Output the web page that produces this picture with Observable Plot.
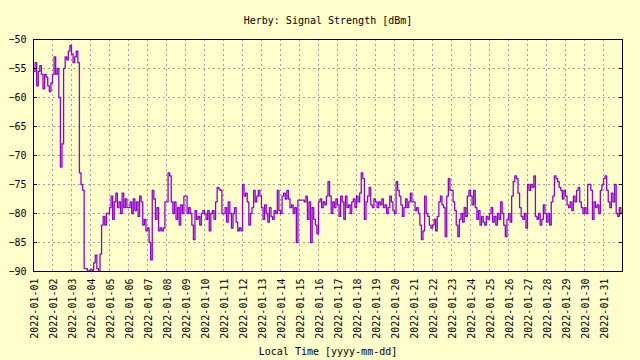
<!DOCTYPE html>
<html>
<head>
<meta charset="utf-8">
<script src="https://cdn.jsdelivr.net/npm/d3@7"></script>
<script src="https://cdn.jsdelivr.net/npm/@observablehq/plot@0.6"></script>
<style>
  html, body { margin: 0; padding: 0; background: #ffffcc; }
</style>
</head>
<body>
<div id="chart"></div>
<script>
// ---- data (dBm, one reading every 2 hours, 12 per day) ----
const titleText = "Herby: Signal Strength [dBm]";
const xLabelText = "Local Time [yyyy-mm-dd]";
const startDate = "2022-01-01";
const endDate = "2022-02-01";
const stepHours = 2;
const yTicks = [-90, -85, -80, -75, -70, -65, -60, -55, -50];

const jan01to07 = [
  -55.5, -54, -58, -55.5, -54.5, -56, -58.5, -56, -56.5, -58, -59, -57.5,
  -56, -53, -56, -55, -60, -72, -68, -55, -53, -53.5, -52, -51,
  -52.5, -54, -53, -52, -54, -73, -75, -76, -89.5, -89.5, -90, -89.8,
  -89.6, -89.8, -88.5, -87.2, -89.5, -90, -87, -82, -80.5, -82, -80, -80,
  -79, -77, -81, -78, -76.5, -79, -78, -80, -76.5, -79, -77.5, -79,
  -79, -78, -80, -77.5, -79.5, -78, -80.5, -77, -78, -82, -81, -83,
  -82.5, -85, -88, -76, -77.5, -81, -79, -83, -82.5, -83, -82.5, -78
];
const jan08to14 = [
  -78, -73, -73.5, -78, -80, -78, -81, -79, -82, -78.5, -80, -77,
  -77, -80, -79, -80, -82, -84.5, -79.5, -81, -80.5, -82, -80, -79.5,
  -80, -81, -79.5, -83, -80, -79.5, -81, -78, -75.5, -75.8, -76, -80,
  -80, -79, -81.5, -78, -80, -82.5, -80, -79, -81.5, -83, -82.5, -83,
  -75, -77, -76.5, -78, -82, -80, -79, -76, -78, -77, -76, -77,
  -79, -81, -78.5, -80, -81.5, -79, -80.5, -81, -79.5, -80, -76, -79.5,
  -80, -77, -76.5, -77.5, -76, -77.5, -79, -78.5, -80, -79, -85, -77.7
];
const jan15to21 = [
  -77.7, -77.7, -77.7, -78, -77, -81, -78, -85, -79, -81, -82, -83.5,
  -78, -77.5, -79, -78, -78.5, -77, -74.5, -77, -80, -78, -79, -77.5,
  -78.5, -80.5, -77, -78, -81, -77, -79, -78.5, -80, -78, -77.5, -79,
  -77, -78, -76.5, -73, -74, -81, -78, -77, -75.5, -78.5, -79, -77.5,
  -78, -79, -78, -78.5, -77.5, -79, -78.5, -80, -79, -77, -78, -79.5,
  -80, -74.5, -76, -77, -78.5, -80.5, -79, -77.5, -79, -78, -76.5, -78,
  -78, -79.5, -79, -80, -82, -84.5, -83, -77, -80, -80.5, -82, -82.5
];
const jan22to28 = [
  -82, -81, -83, -80.5, -78, -77, -78.5, -79, -84, -77, -74, -76,
  -76, -78, -79.5, -82, -84, -81, -80, -81.5, -79, -80.5, -77, -76,
  -77, -78.5, -76, -79, -81, -79.5, -82, -80.5, -81.5, -82, -80.5, -81,
  -80, -79, -81.5, -80.5, -82, -80, -81, -78, -80, -82, -84, -81,
  -80, -81.5, -77, -74.5, -73.5, -74, -76.5, -79, -80.5, -81, -80, -82.5,
  -75, -76, -75, -75.5, -73.5, -80.5, -81, -80, -82, -81, -78.5, -80,
  -81.5, -80, -82, -78, -77, -73.5, -74, -74.5, -75.5, -76, -77.5, -76
];
const jan29to31 = [
  -77, -78.5, -79, -78, -79.5, -77, -78, -76, -75.5, -78, -79, -80,
  -79, -80, -75, -75, -76, -81, -78, -79, -78.5, -80, -76, -75,
  -74, -73.5, -76, -78, -79, -76.5, -78, -75, -80, -80.5, -79, -80
];

// ---- build table ----
const values = [...jan01to07, ...jan08to14, ...jan15to21, ...jan22to28, ...jan29to31];
const t0 = new Date(startDate + "T00:00:00Z");
const t1 = new Date(endDate + "T00:00:00Z");
const data = values.map((v, i) => ({ t: d3.utcHour.offset(t0, i * stepHours), v }));
data.push({ t: t1, v: values[values.length - 1] });
const dayTicks = d3.utcDay.range(t0, t1);

const font = "DejaVu Sans Mono";
const gridStyle = { stroke: "#a0a0a0", strokeOpacity: 1, strokeDasharray: "2,3", strokeWidth: 1 };

const chart = Plot.plot({
  width: 640,
  height: 360,
  marginLeft: 33,
  marginRight: 18,
  marginTop: 39,
  marginBottom: 89,
  style: { background: "#ffffcc", fontFamily: font, fontSize: "10px", color: "black" },
  x: { type: "utc", domain: [t0, t1] },
  y: { domain: [-90, -50] },
  marks: [
    Plot.gridX(dayTicks, gridStyle),
    Plot.gridY(yTicks, gridStyle),
    Plot.line(data, {
      x: "t", y: "v", curve: "step-after",
      stroke: "#9400d3", strokeWidth: 1.3, clip: true
    }),
    Plot.axisY({ ticks: yTicks, tickSize: 0, tickPadding: 7, label: null, fontSize: 10, fontFamily: font }),
    Plot.axisY({ anchor: "right", ticks: yTicks, tickSize: 4, dx: -4, tickFormat: () => "", label: null }),
    Plot.axisY({ anchor: "left", ticks: yTicks, tickSize: 4, dx: 4, tickFormat: () => "", label: null }),
    Plot.axisX({
      ticks: dayTicks, tickFormat: d3.utcFormat("%Y-%m-%d"), tickRotate: -90,
      tickSize: 0, tickPadding: 7, label: null, fontSize: 10, fontFamily: font, dx: 1
    }),
    Plot.frame({ stroke: "black", strokeWidth: 1 }),
    Plot.text([titleText], {
      text: d => d, frameAnchor: "top", dy: -19, lineAnchor: "middle",
      fontSize: 10, fontFamily: font, fill: "black"
    }),
    Plot.text([xLabelText], {
      text: d => d, frameAnchor: "bottom", dy: 80, lineAnchor: "middle",
      fontSize: 10, fontFamily: font, fill: "black"
    })
  ]
});
document.getElementById("chart").appendChild(chart);
</script>
</body>
</html>
